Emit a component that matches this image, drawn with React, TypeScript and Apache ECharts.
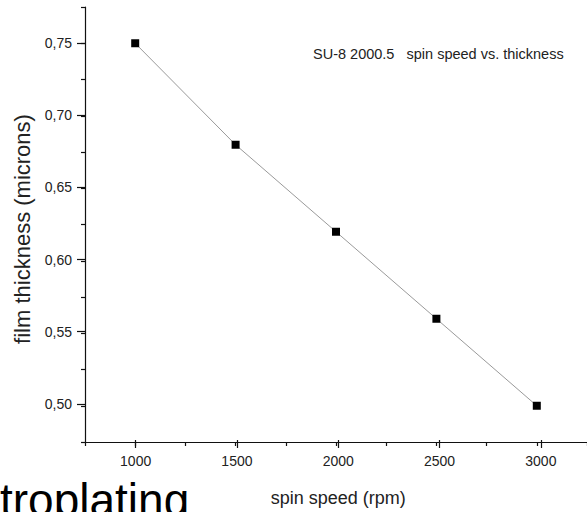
import React, { useEffect, useRef } from "react";
import * as echarts from "echarts";

const spinSpeed = [1000, 1500, 2000, 2500, 3000];
const thickness = [0.75, 0.68, 0.62, 0.56, 0.5];
const titleText = "SU-8 2000.5   spin speed vs. thickness";
const xName = "spin speed (rpm)";
const yName = "film thickness (microns)";
const cornerText = "troplating";

const X_MIN = 750, X_MAX = 3250, Y_MIN = 0.475, Y_MAX = 0.775;
const X_MAJ_MIN = 1000, X_MAJ_MAX = 3000, Y_MAJ_MIN = 0.5, Y_MAJ_MAX = 0.75;

const FONT = "'Liberation Sans', Arial, sans-serif";
const TXT = "#222";

export default function App() {
  const ref = useRef<HTMLDivElement>(null);
  useEffect(() => {
    if (!ref.current) return;
    const chart = echarts.init(ref.current, undefined, { renderer: "svg" });
    const L = 85, T = 7, W = 506.5, H = 435;
    const px = (v: number) => L + ((v - X_MIN) / (X_MAX - X_MIN)) * W;
    const py = (v: number) => T + ((Y_MAX - v) / (Y_MAX - Y_MIN)) * H;
    const g2 = {
      left: px(X_MAJ_MIN),
      top: py(Y_MAJ_MAX),
      width: px(X_MAJ_MAX) - px(X_MAJ_MIN),
      height: py(Y_MAJ_MIN) - py(Y_MAJ_MAX),
    };
    const axisLine = { show: true, lineStyle: { color: "#111", width: 1.2 } };
    chart.setOption({
      animation: false,
      textStyle: { fontFamily: FONT },
      title: {
        text: titleText,
        left: 313,
        top: 46,
        padding: 0,
        textStyle: { fontSize: 14.5, fontWeight: "normal", color: TXT, fontFamily: FONT },
      },
      graphic: [
        {
          type: "text",
          left: 0,
          top: 477,
          style: { text: cornerText, fontSize: 46, fill: "#000", fontFamily: FONT },
        },
      ],
      grid: [
        { left: L, top: T, width: W, height: H },
        { left: g2.left, top: g2.top, width: g2.width, height: g2.height },
      ],
      xAxis: [
        {
          type: "value",
          gridIndex: 0,
          min: X_MIN,
          max: X_MAX,
          interval: 250,
          axisLine,
          axisTick: { show: true, inside: false, length: 4, lineStyle: { color: "#111", width: 1.2 } },
          axisLabel: { show: false },
          splitLine: { show: false },
        },
        {
          type: "value",
          gridIndex: 1,
          min: X_MAJ_MIN,
          max: X_MAJ_MAX,
          interval: 500,
          offset: T + H - (g2.top + g2.height),
          axisLine: { show: false },
          axisTick: { show: true, inside: false, length: 8, lineStyle: { color: "#111", width: 1.2 } },
          axisLabel: {
            show: true,
            fontSize: 14,
            color: TXT,
            margin: 14,
            fontFamily: FONT,
            formatter: (v: number) => String(v),
          },
          splitLine: { show: false },
          name: xName,
          nameLocation: "middle",
          nameGap: 49,
          nameTextStyle: { fontSize: 18, color: TXT, fontFamily: FONT },
        },
      ],
      yAxis: [
        {
          type: "value",
          gridIndex: 0,
          min: Y_MIN,
          max: Y_MAX,
          interval: 0.025,
          axisLine,
          axisTick: { show: true, inside: false, length: 4, lineStyle: { color: "#111", width: 1.2 } },
          axisLabel: { show: false },
          splitLine: { show: false },
        },
        {
          type: "value",
          gridIndex: 1,
          min: Y_MAJ_MIN,
          max: Y_MAJ_MAX,
          interval: 0.05,
          offset: g2.left - L,
          axisLine: { show: false },
          axisTick: { show: true, inside: false, length: 8, lineStyle: { color: "#111", width: 1.2 } },
          axisLabel: {
            show: true,
            fontSize: 14,
            color: TXT,
            margin: 13,
            fontFamily: FONT,
            formatter: (v: number) => v.toFixed(2).replace(".", ","),
          },
          splitLine: { show: false },
          name: yName,
          nameLocation: "middle",
          nameGap: 51,
          nameTextStyle: { fontSize: 22, color: TXT, fontFamily: FONT, padding: [0, 11, 0, 0] },
        },
      ],
      series: [
        {
          type: "line",
          xAxisIndex: 0,
          yAxisIndex: 0,
          data: spinSpeed.map((s, i) => [s, thickness[i]]),
          symbol: "rect",
          symbolSize: 8,
          itemStyle: { color: "#000" },
          lineStyle: { color: "#9a9a9a", width: 1 },
          clip: false,
        },
      ],
    });
    return () => chart.dispose();
  }, []);
  return <div ref={ref} style={{ position: "absolute", left: 0, top: 0, width: 587, height: 512 }} />;
}
